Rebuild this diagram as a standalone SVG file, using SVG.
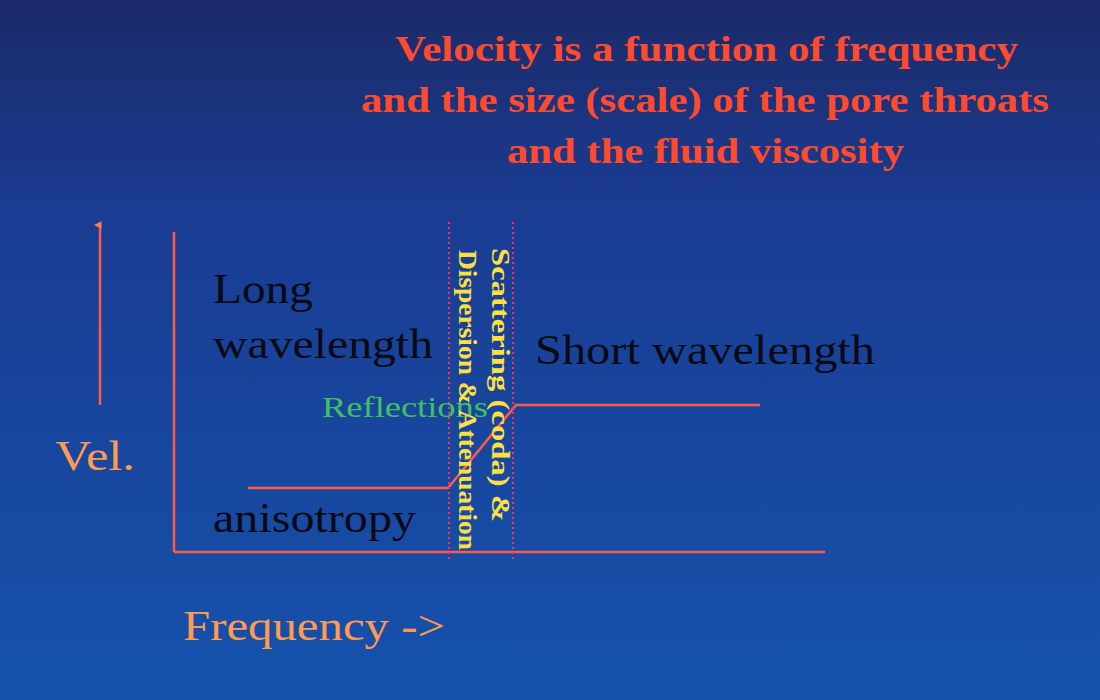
<svg xmlns="http://www.w3.org/2000/svg" width="1100" height="700" viewBox="0 0 1100 700">
<defs>
<linearGradient id="bg" x1="0" y1="0" x2="0" y2="1">
<stop offset="0" stop-color="#1b2a68"/><stop offset="0.3" stop-color="#1a3c92"/><stop offset="1" stop-color="#1552ac"/>
</linearGradient>
<marker id="ah" viewBox="0 0 10 10" refX="5" refY="8" markerWidth="3" markerHeight="4" orient="auto-start-reverse"><path d="M5,0 L10,10 L0,10 Z" fill="#ff7a50"/></marker>
<style>
.title{font-family:"Liberation Serif",serif;font-weight:bold;font-size:36px;fill:#ff4a2e}
.blk{font-family:"Liberation Serif",serif;font-size:43px;fill:#0a0a14}
.org{font-family:"Liberation Serif",serif;font-size:42px;fill:#ff9a50}
.yel{font-family:"Liberation Serif",serif;font-weight:bold;font-size:25px;fill:#ffe040}
.ln{stroke:#ff5a4a;stroke-width:2.5;fill:none}
.dot{stroke:#ff3050;stroke-width:2;stroke-dasharray:2 3;fill:none}
</style>
</defs>
<rect width="1100" height="700" fill="url(#bg)"/>
<g id="title">
<text class="title" x="395" y="61" textLength="623" lengthAdjust="spacingAndGlyphs">Velocity is a function of frequency</text>
<text class="title" x="361" y="112" textLength="688" lengthAdjust="spacingAndGlyphs">and the size (scale) of the pore throats</text>
<text class="title" x="507" y="163" textLength="397" lengthAdjust="spacingAndGlyphs">and the fluid viscosity</text>
</g>
<g id="connectors">
<line class="ln" x1="100" y1="405" x2="100" y2="225" marker-end="url(#ah)"/>
<line class="ln" x1="174" y1="232" x2="174" y2="552"/>
<line class="ln" x1="174" y1="552" x2="825" y2="552"/>
<polyline class="ln" points="248,488 448,488 516,405 760,405"/>
<line class="dot" x1="449" y1="222" x2="449" y2="560"/>
<line class="dot" x1="513" y1="222" x2="513" y2="560"/>
</g>
<g id="labels">
<text class="blk" x="213" y="303" textLength="100" lengthAdjust="spacingAndGlyphs">Long</text>
<text class="blk" x="213" y="358" textLength="220" lengthAdjust="spacingAndGlyphs">wavelength</text>
<text class="blk" x="535" y="364" textLength="340" lengthAdjust="spacingAndGlyphs">Short wavelength</text>
<text class="blk" x="213" y="532" textLength="203" lengthAdjust="spacingAndGlyphs">anisotropy</text>
<text x="322" y="417" font-family="Liberation Serif,serif" font-size="29" fill="#40c060" textLength="166" lengthAdjust="spacingAndGlyphs">Reflections</text>
<text class="org" x="55" y="470" textLength="80" lengthAdjust="spacingAndGlyphs">Vel.</text>
<text class="org" x="183" y="640" textLength="262" lengthAdjust="spacingAndGlyphs">Frequency -&gt;</text>
<text class="yel" transform="translate(459,250) rotate(90)" textLength="300" lengthAdjust="spacingAndGlyphs">Dispersion &amp; Attenuation</text>
<text class="yel" transform="translate(492,248) rotate(90)" textLength="274" lengthAdjust="spacingAndGlyphs">Scattering (coda) &amp;</text>
</g>
</svg>
